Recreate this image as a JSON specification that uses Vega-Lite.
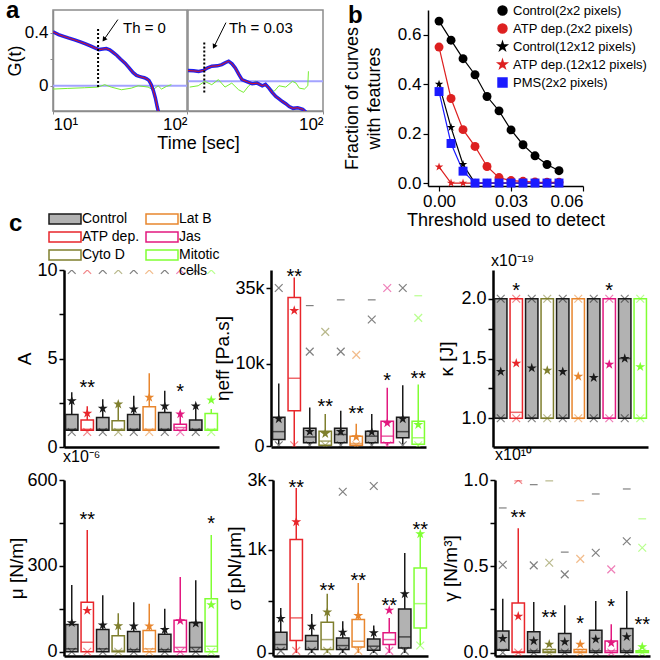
{
"$schema": "https://vega.github.io/schema/vega-lite/v6.json",
"padding": {"left": 5, "top": -2, "right": 0, "bottom": 0},
"config": {
 "font": "Liberation Sans",
 "view": {"stroke": null},
 "legend": {"disable": true},
 "axis": {"grid": false, "domainColor": "black", "domainWidth": 2.5, "tickColor": "black", "tickWidth": 1.5, "tickSize": 5, "labelFontSize": 18, "labelColor": "black", "titleFontSize": 19, "titleFontWeight": "normal", "titleColor": "black", "labelPadding": 2},
 "title": {"fontWeight": "normal", "color": "black"}
},
"datasets": {
 "aFitL": [{"t":10,"g":0.405},{"t":11,"g":0.385},{"t":12,"g":0.372},{"t":13,"g":0.36},{"t":14.5,"g":0.345},{"t":16,"g":0.33},{"t":17.5,"g":0.315},{"t":19,"g":0.3},{"t":20.5,"g":0.285},{"t":22,"g":0.272},{"t":23.5,"g":0.276},{"t":25,"g":0.28},{"t":26.5,"g":0.27},{"t":28,"g":0.252},{"t":30,"g":0.228},{"t":32,"g":0.2},{"t":34.5,"g":0.17},{"t":37,"g":0.135},{"t":39.5,"g":0.1},{"t":42,"g":0.078},{"t":44,"g":0.07},{"t":46,"g":0.065},{"t":48,"g":0.06},{"t":50,"g":0.052},{"t":52,"g":0.04},{"t":54,"g":0.01},{"t":56,"g":-0.035},{"t":58,"g":-0.09},{"t":60,"g":-0.16},{"t":62,"g":-0.22}],
 "aResL": [{"t":10,"g":-0.025},{"t":12.9,"g":-0.02},{"t":17.2,"g":-0.015},{"t":21.7,"g":-0.01},{"t":24.3,"g":0.008},{"t":27.2,"g":-0.01},{"t":32.4,"g":-0.03},{"t":38.4,"g":-0.018},{"t":43.2,"g":0.0},{"t":51.2,"g":-0.01},{"t":55.8,"g":-0.03},{"t":60.9,"g":0.0},{"t":64.5,"g":-0.025},{"t":70.2,"g":-0.005},{"t":76.4,"g":0.008}],
 "aFitR": [{"t":10,"g":0.114},{"t":11,"g":0.112},{"t":12,"g":0.108},{"t":13,"g":0.115},{"t":14,"g":0.135},{"t":15,"g":0.147},{"t":16.5,"g":0.15},{"t":17.8,"g":0.159},{"t":19,"g":0.175},{"t":20,"g":0.185},{"t":21.2,"g":0.165},{"t":22.4,"g":0.134},{"t":23.8,"g":0.085},{"t":25.1,"g":0.046},{"t":27.5,"g":0.03},{"t":29.9,"g":0.015},{"t":32.5,"g":0.02},{"t":35.5,"g":0.0},{"t":37.5,"g":0.01},{"t":39.8,"g":-0.018},{"t":42,"g":-0.05},{"t":44.7,"g":-0.081},{"t":47.5,"g":-0.1},{"t":50.1,"g":-0.119},{"t":53,"g":-0.135},{"t":56.2,"g":-0.157},{"t":60,"g":-0.17},{"t":65,"g":-0.165},{"t":70.8,"g":-0.177},{"t":75,"g":-0.2}],
 "aResR": [{"t":10.3,"g":-0.01},{"t":11.9,"g":0.0},{"t":13.3,"g":0.033},{"t":15,"g":0.008},{"t":16.8,"g":0.046},{"t":18.8,"g":-0.01},{"t":21.1,"g":0.02},{"t":23.7,"g":-0.03},{"t":25.8,"g":-0.05},{"t":28.2,"g":0.0},{"t":31.6,"g":0.033},{"t":35.5,"g":0.008},{"t":39.8,"g":-0.01},{"t":43.4,"g":-0.043},{"t":47.2,"g":0.0},{"t":53,"g":-0.01},{"t":59.4,"g":0.033},{"t":63.1,"g":0.02},{"t":66.8,"g":-0.018},{"t":72.8,"g":-0.025},{"t":77.2,"g":0.0},{"t":78,"g":0.109}],
 "aBaseL": [{"t":10,"t2":100,"g":0}],
 "aBaseR": [{"t":10,"t2":100,"g":0.033}],
 "aThL": [{"t":21.7,"g1":-0.01,"g2":0.43}],
 "aThR": [{"t":13.2,"g1":-0.05,"g2":0.33}],
 "aArrL": [{"t1":30.5,"g1":0.498,"t2":24,"g2":0.347,"ang":215}],
 "aArrR": [{"t1":19.1,"g1":0.475,"t2":15.6,"g2":0.294,"ang":207}],
 "aTxtL": [{"t":33.3,"g":0.438,"s":"Th = 0"}],
 "aTxtR": [{"t":20.1,"g":0.438,"s":"Th = 0.03"}],
 "bData": [
  {"th":0,"f":0.655,"s":"Control(2x2 pixels)"},{"th":0.005,"f":0.578,"s":"Control(2x2 pixels)"},{"th":0.01,"f":0.503,"s":"Control(2x2 pixels)"},{"th":0.015,"f":0.438,"s":"Control(2x2 pixels)"},{"th":0.02,"f":0.35,"s":"Control(2x2 pixels)"},{"th":0.025,"f":0.292,"s":"Control(2x2 pixels)"},{"th":0.03,"f":0.215,"s":"Control(2x2 pixels)"},{"th":0.035,"f":0.155,"s":"Control(2x2 pixels)"},{"th":0.04,"f":0.11,"s":"Control(2x2 pixels)"},{"th":0.045,"f":0.075,"s":"Control(2x2 pixels)"},{"th":0.05,"f":0.05,"s":"Control(2x2 pixels)"},
  {"th":0,"f":0.55,"s":"ATP dep.(2x2 pixels)"},{"th":0.005,"f":0.342,"s":"ATP dep.(2x2 pixels)"},{"th":0.01,"f":0.216,"s":"ATP dep.(2x2 pixels)"},{"th":0.015,"f":0.148,"s":"ATP dep.(2x2 pixels)"},{"th":0.02,"f":0.067,"s":"ATP dep.(2x2 pixels)"},{"th":0.025,"f":0.022,"s":"ATP dep.(2x2 pixels)"},{"th":0.03,"f":0.01,"s":"ATP dep.(2x2 pixels)"},{"th":0.035,"f":0.007,"s":"ATP dep.(2x2 pixels)"},{"th":0.04,"f":0.004,"s":"ATP dep.(2x2 pixels)"},{"th":0.045,"f":0.003,"s":"ATP dep.(2x2 pixels)"},{"th":0.05,"f":0.003,"s":"ATP dep.(2x2 pixels)"},
  {"th":0,"f":0.4,"s":"Control(12x12 pixels)"},{"th":0.005,"f":0.225,"s":"Control(12x12 pixels)"},{"th":0.01,"f":0.075,"s":"Control(12x12 pixels)"},{"th":0.015,"f":0,"s":"Control(12x12 pixels)"},{"th":0.02,"f":0,"s":"Control(12x12 pixels)"},{"th":0.025,"f":0,"s":"Control(12x12 pixels)"},{"th":0.03,"f":0,"s":"Control(12x12 pixels)"},{"th":0.035,"f":0,"s":"Control(12x12 pixels)"},{"th":0.04,"f":0,"s":"Control(12x12 pixels)"},{"th":0.045,"f":0,"s":"Control(12x12 pixels)"},{"th":0.05,"f":0,"s":"Control(12x12 pixels)"},
  {"th":0,"f":0.065,"s":"ATP dep.(12x12 pixels)"},{"th":0.005,"f":0,"s":"ATP dep.(12x12 pixels)"},{"th":0.01,"f":0,"s":"ATP dep.(12x12 pixels)"},{"th":0.015,"f":0,"s":"ATP dep.(12x12 pixels)"},{"th":0.02,"f":0,"s":"ATP dep.(12x12 pixels)"},{"th":0.025,"f":0,"s":"ATP dep.(12x12 pixels)"},{"th":0.03,"f":0,"s":"ATP dep.(12x12 pixels)"},{"th":0.035,"f":0,"s":"ATP dep.(12x12 pixels)"},{"th":0.04,"f":0,"s":"ATP dep.(12x12 pixels)"},{"th":0.045,"f":0,"s":"ATP dep.(12x12 pixels)"},{"th":0.05,"f":0,"s":"ATP dep.(12x12 pixels)"},
  {"th":0,"f":0.37,"s":"PMS(2x2 pixels)"},{"th":0.005,"f":0.16,"s":"PMS(2x2 pixels)"},{"th":0.01,"f":0.048,"s":"PMS(2x2 pixels)"},{"th":0.015,"f":0,"s":"PMS(2x2 pixels)"},{"th":0.02,"f":0,"s":"PMS(2x2 pixels)"},{"th":0.025,"f":0,"s":"PMS(2x2 pixels)"},{"th":0.03,"f":0,"s":"PMS(2x2 pixels)"},{"th":0.035,"f":0,"s":"PMS(2x2 pixels)"},{"th":0.04,"f":0,"s":"PMS(2x2 pixels)"},{"th":0.045,"f":0,"s":"PMS(2x2 pixels)"},{"th":0.05,"f":0,"s":"PMS(2x2 pixels)"}
 ],
 "bxA": [
  {"cat":"c1","grp":"Control","lo":0.95,"q1":0.95,"med":1.0,"q3":1.84,"hi":3.09,"mean":2.6},
  {"cat":"atp","grp":"ATP dep.","lo":0.95,"q1":0.95,"med":1.0,"q3":1.52,"hi":2.3,"mean":1.9},
  {"cat":"c2","grp":"Control","lo":0.95,"q1":0.95,"med":1.0,"q3":1.67,"hi":2.7,"mean":2.18},
  {"cat":"cyto","grp":"Cyto D","lo":0.95,"q1":0.95,"med":1.0,"q3":1.48,"hi":2.52,"mean":2.42},
  {"cat":"c3","grp":"Control","lo":0.95,"q1":0.95,"med":1.0,"q3":1.84,"hi":2.9,"mean":2.14},
  {"cat":"latb","grp":"Lat B","lo":0.95,"q1":0.95,"med":1.0,"q3":2.27,"hi":4.17,"mean":2.8},
  {"cat":"c4","grp":"Control","lo":0.95,"q1":0.95,"med":1.0,"q3":1.95,"hi":3.18,"mean":2.31},
  {"cat":"jas","grp":"Jas","lo":0.95,"q1":0.95,"med":1.1,"q3":1.29,"hi":2.03,"mean":1.86},
  {"cat":"c5","grp":"Control","lo":0.95,"q1":0.95,"med":1.0,"q3":1.52,"hi":2.46,"mean":2.31},
  {"cat":"mit","grp":"Mitotic cells","lo":0.95,"q1":0.95,"med":1.0,"q3":1.89,"hi":2.14,"mean":2.65}
 ],
 "mkA": [
  {"cat":"c1","grp":"Control","v":0.85,"k":"x"},{"cat":"atp","grp":"ATP dep.","v":0.85,"k":"x"},{"cat":"c2","grp":"Control","v":0.85,"k":"x"},{"cat":"cyto","grp":"Cyto D","v":0.85,"k":"x"},{"cat":"c3","grp":"Control","v":0.85,"k":"x"},{"cat":"latb","grp":"Lat B","v":0.85,"k":"x"},{"cat":"c4","grp":"Control","v":0.85,"k":"x"},{"cat":"jas","grp":"Jas","v":0.85,"k":"x"},{"cat":"c5","grp":"Control","v":0.85,"k":"x"},{"cat":"mit","grp":"Mitotic cells","v":0.85,"k":"x"},
  {"cat":"c1","grp":"Control","v":10,"k":"x"},{"cat":"atp","grp":"ATP dep.","v":10,"k":"x"},{"cat":"c2","grp":"Control","v":10,"k":"x"},{"cat":"cyto","grp":"Cyto D","v":10,"k":"x"},{"cat":"c3","grp":"Control","v":10,"k":"x"},{"cat":"latb","grp":"Lat B","v":10,"k":"x"},{"cat":"c4","grp":"Control","v":10,"k":"x"},{"cat":"jas","grp":"Jas","v":10,"k":"x"},{"cat":"c5","grp":"Control","v":10,"k":"x"},{"cat":"mit","grp":"Mitotic cells","v":10,"k":"x"}
 ],
 "sgA": [{"cat":"atp","v":3.6,"s":"**"},{"cat":"jas","v":3.4,"s":"*"}],
 "bxE": [
  {"cat":"c1","grp":"Control","lo":200,"q1":800,"med":1750,"q3":3500,"hi":7600,"mean":3300},
  {"cat":"atp","grp":"ATP dep.","lo":0,"q1":4300,"med":8250,"q3":18100,"hi":37900,"mean":16500},
  {"cat":"c2","grp":"Control","lo":200,"q1":400,"med":1100,"q3":2150,"hi":4700,"mean":1750},
  {"cat":"cyto","grp":"Cyto D","lo":0,"q1":100,"med":600,"q3":1800,"hi":3900,"mean":1500},
  {"cat":"c3","grp":"Control","lo":200,"q1":400,"med":1400,"q3":2150,"hi":4300,"mean":1750},
  {"cat":"latb","grp":"Lat B","lo":0,"q1":100,"med":300,"q3":1200,"hi":2700,"mean":1100},
  {"cat":"c4","grp":"Control","lo":200,"q1":400,"med":1200,"q3":1800,"hi":3900,"mean":1700},
  {"cat":"jas","grp":"Jas","lo":100,"q1":400,"med":1200,"q3":3000,"hi":7100,"mean":2800},
  {"cat":"c5","grp":"Control","lo":200,"q1":1000,"med":1750,"q3":3500,"hi":7400,"mean":3300},
  {"cat":"mit","grp":"Mitotic cells","lo":100,"q1":200,"med":1000,"q3":3000,"hi":7500,"mean":2600}
 ],
 "mkE": [
  {"cat":"c1","grp":"Control","v":100,"k":"x"},{"cat":"atp","grp":"ATP dep.","v":100,"k":"x"},{"cat":"c2","grp":"Control","v":100,"k":"x"},{"cat":"cyto","grp":"Cyto D","v":100,"k":"x"},{"cat":"c3","grp":"Control","v":100,"k":"x"},{"cat":"latb","grp":"Lat B","v":100,"k":"x"},{"cat":"c4","grp":"Control","v":100,"k":"x"},{"cat":"jas","grp":"Jas","v":100,"k":"x"},{"cat":"c5","grp":"Control","v":100,"k":"x"},{"cat":"mit","grp":"Mitotic cells","v":100,"k":"x"},
  {"cat":"c1","grp":"Control","v":35000,"k":"x"},{"cat":"jas","grp":"Jas","v":35000,"k":"x"},{"cat":"c5","grp":"Control","v":35000,"k":"x"},
  {"cat":"c2","grp":"Control","v":11500,"k":"x"},{"cat":"c2","grp":"Control","v":17100,"k":"d"},
  {"cat":"cyto","grp":"Cyto D","v":13900,"k":"x"},
  {"cat":"c3","grp":"Control","v":11500,"k":"x"},{"cat":"c3","grp":"Control","v":17800,"k":"d"},
  {"cat":"latb","grp":"Lat B","v":11100,"k":"x"},
  {"cat":"c4","grp":"Control","v":15400,"k":"x"},{"cat":"c4","grp":"Control","v":17800,"k":"d"},
  {"cat":"mit","grp":"Mitotic cells","v":15600,"k":"x"},{"cat":"mit","grp":"Mitotic cells","v":18300,"k":"d"}
 ],
 "sgE": [{"cat":"atp","v":39500,"s":"**"},{"cat":"cyto","v":5300,"s":"**"},{"cat":"latb","v":4500,"s":"**"},{"cat":"jas","v":8500,"s":"*"},{"cat":"mit","v":8800,"s":"**"}],
 "bxK": [
  {"cat":"c1","grp":"Control","lo":1,"q1":1,"med":1,"q3":2,"hi":2,"mean":1.39},
  {"cat":"atp","grp":"ATP dep.","lo":1,"q1":1,"med":1.05,"q3":2,"hi":2,"mean":1.46},
  {"cat":"c2","grp":"Control","lo":1,"q1":1,"med":1,"q3":2,"hi":2,"mean":1.42},
  {"cat":"cyto","grp":"Cyto D","lo":1,"q1":1,"med":1,"q3":2,"hi":2,"mean":1.4},
  {"cat":"c3","grp":"Control","lo":1,"q1":1,"med":1,"q3":2,"hi":2,"mean":1.39},
  {"cat":"latb","grp":"Lat B","lo":1,"q1":1,"med":1,"q3":2,"hi":2,"mean":1.35},
  {"cat":"c4","grp":"Control","lo":1,"q1":1,"med":1,"q3":2,"hi":2,"mean":1.34},
  {"cat":"jas","grp":"Jas","lo":1,"q1":1,"med":1,"q3":2,"hi":2,"mean":1.45},
  {"cat":"c5","grp":"Control","lo":1,"q1":1,"med":1.5,"q3":2,"hi":2,"mean":1.5},
  {"cat":"mit","grp":"Mitotic cells","lo":1,"q1":1,"med":1,"q3":2,"hi":2,"mean":1.43}
 ],
 "mkK": [
  {"cat":"c1","grp":"Control","v":1,"k":"x"},{"cat":"atp","grp":"ATP dep.","v":1,"k":"x"},{"cat":"c2","grp":"Control","v":1,"k":"x"},{"cat":"cyto","grp":"Cyto D","v":1,"k":"x"},{"cat":"c3","grp":"Control","v":1,"k":"x"},{"cat":"latb","grp":"Lat B","v":1,"k":"x"},{"cat":"c4","grp":"Control","v":1,"k":"x"},{"cat":"jas","grp":"Jas","v":1,"k":"x"},{"cat":"c5","grp":"Control","v":1,"k":"x"},{"cat":"mit","grp":"Mitotic cells","v":1,"k":"x"},
  {"cat":"c1","grp":"Control","v":2,"k":"x"},{"cat":"atp","grp":"ATP dep.","v":2,"k":"x"},{"cat":"c2","grp":"Control","v":2,"k":"x"},{"cat":"cyto","grp":"Cyto D","v":2,"k":"x"},{"cat":"c3","grp":"Control","v":2,"k":"x"},{"cat":"latb","grp":"Lat B","v":2,"k":"x"},{"cat":"c4","grp":"Control","v":2,"k":"x"},{"cat":"jas","grp":"Jas","v":2,"k":"x"},{"cat":"c5","grp":"Control","v":2,"k":"x"},{"cat":"mit","grp":"Mitotic cells","v":2,"k":"x"}
 ],
 "sgK": [{"cat":"atp","v":2.11,"s":"*"},{"cat":"jas","v":2.11,"s":"*"}],
 "bxM": [
  {"cat":"c1","grp":"Control","lo":0,"q1":0,"med":10,"q3":95,"hi":233,"mean":101},
  {"cat":"atp","grp":"ATP dep.","lo":0,"q1":0,"med":33,"q3":173,"hi":425,"mean":144},
  {"cat":"c2","grp":"Control","lo":0,"q1":0,"med":10,"q3":78,"hi":197,"mean":93},
  {"cat":"cyto","grp":"Cyto D","lo":0,"q1":0,"med":4,"q3":56,"hi":134,"mean":90},
  {"cat":"c3","grp":"Control","lo":0,"q1":0,"med":7,"q3":71,"hi":173,"mean":89},
  {"cat":"latb","grp":"Lat B","lo":0,"q1":0,"med":10,"q3":74,"hi":168,"mean":89},
  {"cat":"c4","grp":"Control","lo":0,"q1":0,"med":7,"q3":61,"hi":150,"mean":77},
  {"cat":"jas","grp":"Jas","lo":0,"q1":0,"med":15,"q3":110,"hi":261,"mean":108},
  {"cat":"c5","grp":"Control","lo":0,"q1":0,"med":15,"q3":102,"hi":250,"mean":99},
  {"cat":"mit","grp":"Mitotic cells","lo":0,"q1":0,"med":19,"q3":185,"hi":408,"mean":164}
 ],
 "mkM": [
  {"cat":"c1","grp":"Control","v":0,"k":"x"},{"cat":"atp","grp":"ATP dep.","v":0,"k":"x"},{"cat":"c2","grp":"Control","v":0,"k":"x"},{"cat":"cyto","grp":"Cyto D","v":0,"k":"x"},{"cat":"c3","grp":"Control","v":0,"k":"x"},{"cat":"latb","grp":"Lat B","v":0,"k":"x"},{"cat":"c4","grp":"Control","v":0,"k":"x"},{"cat":"jas","grp":"Jas","v":0,"k":"x"},{"cat":"c5","grp":"Control","v":0,"k":"x"},{"cat":"mit","grp":"Mitotic cells","v":0,"k":"x"}
 ],
 "sgM": [{"cat":"atp","v":479,"s":"**"},{"cat":"mit","v":462,"s":"*"}],
 "bxS": [
  {"cat":"c1","grp":"Control","lo":32,"q1":32,"med":81,"q3":200,"hi":435,"mean":332},
  {"cat":"atp","grp":"ATP dep.","lo":0,"q1":119,"med":339,"q3":1097,"hi":2730,"mean":1268},
  {"cat":"c2","grp":"Control","lo":0,"q1":32,"med":113,"q3":168,"hi":377,"mean":258},
  {"cat":"cyto","grp":"Cyto D","lo":0,"q1":32,"med":129,"q3":297,"hi":574,"mean":394},
  {"cat":"c3","grp":"Control","lo":0,"q1":32,"med":71,"q3":145,"hi":306,"mean":200},
  {"cat":"latb","grp":"Lat B","lo":0,"q1":58,"med":113,"q3":323,"hi":677,"mean":361},
  {"cat":"c4","grp":"Control","lo":0,"q1":26,"med":65,"q3":135,"hi":265,"mean":194},
  {"cat":"jas","grp":"Jas","lo":0,"q1":81,"med":129,"q3":194,"hi":339,"mean":413},
  {"cat":"c5","grp":"Control","lo":0,"q1":48,"med":155,"q3":426,"hi":968,"mean":571},
  {"cat":"mit","grp":"Mitotic cells","lo":71,"q1":242,"med":477,"q3":823,"hi":1152,"mean":1152}
 ],
 "mkS": [
  {"cat":"c1","grp":"Control","v":20,"k":"x"},{"cat":"atp","grp":"ATP dep.","v":20,"k":"x"},{"cat":"c2","grp":"Control","v":20,"k":"x"},{"cat":"cyto","grp":"Cyto D","v":20,"k":"x"},{"cat":"c3","grp":"Control","v":20,"k":"x"},{"cat":"latb","grp":"Lat B","v":20,"k":"x"},{"cat":"c4","grp":"Control","v":20,"k":"x"},{"cat":"jas","grp":"Jas","v":20,"k":"x"},{"cat":"c5","grp":"Control","v":20,"k":"x"},{"cat":"mit","grp":"Mitotic cells","v":71,"k":"x"},
  {"cat":"c3","grp":"Control","v":2610,"k":"x"},{"cat":"c4","grp":"Control","v":2800,"k":"x"}
 ],
 "sgS": [{"cat":"atp","v":2900,"s":"**"},{"cat":"cyto","v":645,"s":"**"},{"cat":"latb","v":748,"s":"**"},{"cat":"jas","v":506,"s":"**"},{"cat":"mit","v":1242,"s":"**"}],
 "bxG": [
  {"cat":"c1","grp":"Control","lo":0.013,"q1":0.013,"med":0.017,"q3":0.125,"hi":0.312,"mean":0.081},
  {"cat":"atp","grp":"ATP dep.","lo":0,"q1":0,"med":0.005,"q3":0.287,"hi":0.72,"mean":0.21},
  {"cat":"c2","grp":"Control","lo":0,"q1":0,"med":0.01,"q3":0.12,"hi":0.293,"mean":0.067},
  {"cat":"cyto","grp":"Cyto D","lo":0,"q1":0,"med":0.005,"q3":0.017,"hi":0.017,"mean":0.048},
  {"cat":"c3","grp":"Control","lo":0,"q1":0,"med":0.01,"q3":0.11,"hi":0.274,"mean":0.062},
  {"cat":"latb","grp":"Lat B","lo":0,"q1":0,"med":0.005,"q3":0.017,"hi":0.017,"mean":0.048},
  {"cat":"c4","grp":"Control","lo":0,"q1":0,"med":0.01,"q3":0.129,"hi":0.299,"mean":0.077},
  {"cat":"jas","grp":"Jas","lo":0,"q1":0,"med":0.01,"q3":0.067,"hi":0.164,"mean":0.056},
  {"cat":"c5","grp":"Control","lo":0,"q1":0,"med":0.01,"q3":0.139,"hi":0.356,"mean":0.091},
  {"cat":"mit","grp":"Mitotic cells","lo":0,"q1":0,"med":0.005,"q3":0.01,"hi":0.01,"mean":0.033}
 ],
 "mkG": [
  {"cat":"c1","grp":"Control","v":0,"k":"x"},{"cat":"atp","grp":"ATP dep.","v":0,"k":"x"},{"cat":"c2","grp":"Control","v":0,"k":"x"},{"cat":"cyto","grp":"Cyto D","v":0,"k":"x"},{"cat":"c3","grp":"Control","v":0,"k":"x"},{"cat":"latb","grp":"Lat B","v":0,"k":"x"},{"cat":"c4","grp":"Control","v":0,"k":"x"},{"cat":"jas","grp":"Jas","v":0,"k":"x"},{"cat":"c5","grp":"Control","v":0,"k":"x"},{"cat":"mit","grp":"Mitotic cells","v":0,"k":"x"},
  {"cat":"c1","grp":"Control","v":0.509,"k":"x"},{"cat":"c1","grp":"Control","v":0.838,"k":"d"},
  {"cat":"atp","grp":"ATP dep.","v":1.0,"k":"x"},{"cat":"atp","grp":"ATP dep.","v":0.995,"k":"d"},
  {"cat":"c2","grp":"Control","v":0.505,"k":"x"},{"cat":"c2","grp":"Control","v":0.973,"k":"d"},
  {"cat":"cyto","grp":"Cyto D","v":0.52,"k":"x"},{"cat":"cyto","grp":"Cyto D","v":0.995,"k":"d"},
  {"cat":"c3","grp":"Control","v":0.453,"k":"x"},{"cat":"c3","grp":"Control","v":0.582,"k":"d"},
  {"cat":"latb","grp":"Lat B","v":0.543,"k":"x"},{"cat":"latb","grp":"Lat B","v":0.88,"k":"d"},
  {"cat":"c4","grp":"Control","v":0.578,"k":"x"},{"cat":"c4","grp":"Control","v":0.919,"k":"d"},
  {"cat":"jas","grp":"Jas","v":0.482,"k":"x"},
  {"cat":"c5","grp":"Control","v":0.645,"k":"x"},{"cat":"c5","grp":"Control","v":0.948,"k":"d"},
  {"cat":"mit","grp":"Mitotic cells","v":0.607,"k":"x"},{"cat":"mit","grp":"Mitotic cells","v":0.775,"k":"d"}
 ],
 "sgG": [{"cat":"atp","v":0.81,"s":"**"},{"cat":"cyto","v":0.23,"s":"**"},{"cat":"latb","v":0.197,"s":"*"},{"cat":"jas","v":0.293,"s":"*"},{"cat":"mit","v":0.19,"s":"**"}]
},
"spacing": -17,
"resolve": {"scale": {"color": "independent", "fill": "independent", "stroke": "independent", "shape": "independent", "size": "independent"}, "legend": {"color": "independent", "fill": "independent", "stroke": "independent", "shape": "independent", "size": "independent"}},
"vconcat": [
 {"hconcat": [
  {"width": 134, "height": 101,
   "view": {"stroke": "#8c8c8c", "strokeWidth": 1.5},
   "title": {"text": "a", "anchor": "start", "frame": "group", "fontSize": 24, "fontWeight": "bold", "dx": -47, "offset": -13},
   "layer": [
    {"data": {"name": "aBaseL"}, "mark": {"type": "rule", "color": "#a3a3ff", "strokeWidth": 2},
     "encoding": {
      "x": {"field": "t", "type": "quantitative", "scale": {"type": "log", "domain": [10, 100], "nice": false}, "axis": {"title": "Time [sec]", "titleX": 145, "values": [10, 100], "labelExpr": "datum.value == 10 ? '10¹' : '10²'", "domainColor": "#8c8c8c", "domainWidth": 1.5, "tickColor": "#8c8c8c", "tickSize": 3, "tickWidth": 1, "labelPadding": 2, "titlePadding": 2, "labelFontSize": 17, "titleFontSize": 18}},
      "x2": {"field": "t2"},
      "y": {"field": "g", "type": "quantitative", "scale": {"domain": [-0.19, 0.57], "nice": false, "zero": false}, "axis": {"title": "G(t)", "values": [0, 0.2, 0.4], "labelExpr": "datum.value == 0 ? '0' : (datum.value == 0.4 ? '0.4' : '')", "domainColor": "#8c8c8c", "domainWidth": 1.5, "tickColor": "#8c8c8c", "tickSize": 3, "tickWidth": 1, "titlePadding": 0, "labelFontSize": 17, "titleFontSize": 18}}}},
    {"data": {"name": "aResL"}, "mark": {"type": "line", "color": "#77ee33", "strokeWidth": 1, "clip": true}, "encoding": {"x": {"field": "t", "type": "quantitative"}, "y": {"field": "g", "type": "quantitative"}}},
    {"data": {"name": "aFitL"}, "mark": {"type": "line", "color": "#2020ee", "strokeWidth": 3.5, "clip": true}, "encoding": {"x": {"field": "t", "type": "quantitative"}, "y": {"field": "g", "type": "quantitative"}}},
    {"data": {"name": "aFitL"}, "mark": {"type": "line", "color": "#e01818", "strokeWidth": 1, "clip": true}, "encoding": {"x": {"field": "t", "type": "quantitative"}, "y": {"field": "g", "type": "quantitative"}}},
    {"data": {"name": "aThL"}, "mark": {"type": "rule", "strokeDash": [2, 2], "strokeWidth": 2, "color": "black"}, "encoding": {"x": {"field": "t", "type": "quantitative"}, "y": {"field": "g1", "type": "quantitative"}, "y2": {"field": "g2"}}},
    {"data": {"name": "aArrL"}, "mark": {"type": "rule", "strokeWidth": 1, "color": "black"}, "encoding": {"x": {"field": "t1", "type": "quantitative"}, "x2": {"field": "t2"}, "y": {"field": "g1", "type": "quantitative"}, "y2": {"field": "g2"}}},
    {"data": {"name": "aArrL"}, "mark": {"type": "point", "shape": "triangle-up", "filled": true, "color": "black", "size": 30, "opacity": 1}, "encoding": {"x": {"field": "t2", "type": "quantitative"}, "y": {"field": "g2", "type": "quantitative"}, "angle": {"field": "ang", "type": "quantitative", "scale": null}}},
    {"data": {"name": "aTxtL"}, "mark": {"type": "text", "align": "left", "baseline": "middle", "fontSize": 15}, "encoding": {"x": {"field": "t", "type": "quantitative"}, "y": {"field": "g", "type": "quantitative"}, "text": {"field": "s"}}}
   ]},
  {"width": 135, "height": 101,
   "view": {"stroke": "#8c8c8c", "strokeWidth": 1.5},
   "layer": [
    {"data": {"name": "aBaseR"}, "mark": {"type": "rule", "color": "#a3a3ff", "strokeWidth": 2},
     "encoding": {
      "x": {"field": "t", "type": "quantitative", "scale": {"type": "log", "domain": [10, 100], "nice": false}, "axis": {"title": null, "values": [100], "labelExpr": "'10²'", "domainColor": "#8c8c8c", "domainWidth": 1.5, "tickColor": "#8c8c8c", "tickSize": 3, "tickWidth": 1, "labelPadding": 2, "labelFontSize": 17}},
      "x2": {"field": "t2"},
      "y": {"field": "g", "type": "quantitative", "scale": {"domain": [-0.19, 0.57], "nice": false, "zero": false}, "axis": {"title": null, "labels": false, "ticks": false, "domain": false}}}},
    {"data": {"name": "aResR"}, "mark": {"type": "line", "color": "#77ee33", "strokeWidth": 1, "clip": true}, "encoding": {"x": {"field": "t", "type": "quantitative"}, "y": {"field": "g", "type": "quantitative"}}},
    {"data": {"name": "aFitR"}, "mark": {"type": "line", "color": "#2020ee", "strokeWidth": 3.5, "clip": true}, "encoding": {"x": {"field": "t", "type": "quantitative"}, "y": {"field": "g", "type": "quantitative"}}},
    {"data": {"name": "aFitR"}, "mark": {"type": "line", "color": "#e01818", "strokeWidth": 1, "clip": true}, "encoding": {"x": {"field": "t", "type": "quantitative"}, "y": {"field": "g", "type": "quantitative"}}},
    {"data": {"name": "aThR"}, "mark": {"type": "rule", "strokeDash": [2, 2], "strokeWidth": 2, "color": "black"}, "encoding": {"x": {"field": "t", "type": "quantitative"}, "y": {"field": "g1", "type": "quantitative"}, "y2": {"field": "g2"}}},
    {"data": {"name": "aArrR"}, "mark": {"type": "rule", "strokeWidth": 1, "color": "black"}, "encoding": {"x": {"field": "t1", "type": "quantitative"}, "x2": {"field": "t2"}, "y": {"field": "g1", "type": "quantitative"}, "y2": {"field": "g2"}}},
    {"data": {"name": "aArrR"}, "mark": {"type": "point", "shape": "triangle-up", "filled": true, "color": "black", "size": 30, "opacity": 1}, "encoding": {"x": {"field": "t2", "type": "quantitative"}, "y": {"field": "g2", "type": "quantitative"}, "angle": {"field": "ang", "type": "quantitative", "scale": null}}},
    {"data": {"name": "aTxtR"}, "mark": {"type": "text", "align": "left", "baseline": "middle", "fontSize": 15}, "encoding": {"x": {"field": "t", "type": "quantitative"}, "y": {"field": "g", "type": "quantitative"}, "text": {"field": "s"}}}
   ]},
  {"width": 259, "height": 176,
   "data": {"name": "bData"},
   "layer": [
    {"mark": {"type": "line", "strokeWidth": 1.2},
     "encoding": {
      "x": {"field": "th", "type": "quantitative", "scale": {"domain": [-0.0046, 0.06], "range": [104, 259], "nice": false, "zero": false}, "axis": {"title": "Threshold used to detect", "values": [0, 0.03, 0.06], "format": ".2f", "domainWidth": 1.5, "tickWidth": 1.2, "labelFontSize": 17, "titleFontSize": 18, "titlePadding": 2}},
      "y": {"field": "f", "type": "quantitative", "scale": {"domain": [-0.012, 0.7], "nice": false, "zero": false}, "axis": {"title": ["Fraction of curves", "with features"], "values": [0, 0.2, 0.4, 0.6], "format": ".1f", "domainWidth": 1.5, "tickWidth": 1.2, "labelFontSize": 17, "titleFontSize": 18, "titleLineHeight": 22, "titlePadding": 14, "offset": -104}},
      "color": {"field": "s", "type": "nominal", "scale": {"domain": ["Control(2x2 pixels)", "ATP dep.(2x2 pixels)", "Control(12x12 pixels)", "ATP dep.(12x12 pixels)", "PMS(2x2 pixels)"], "range": ["#000000", "#dd2020", "#000000", "#dd2020", "#1a1aff"]}}}},
    {"mark": {"type": "point", "filled": true, "opacity": 1},
     "encoding": {
      "x": {"field": "th", "type": "quantitative"},
      "y": {"field": "f", "type": "quantitative"},
      "color": {"field": "s", "type": "nominal", "scale": {"domain": ["Control(2x2 pixels)", "ATP dep.(2x2 pixels)", "Control(12x12 pixels)", "ATP dep.(12x12 pixels)", "PMS(2x2 pixels)"], "range": ["#000000", "#dd2020", "#000000", "#dd2020", "#1a1aff"]}, "legend": {"orient": "none", "legendX": 24, "legendY": -6, "title": "b", "titleOrient": "left", "titleAnchor": "start", "titleBaseline": "top", "titleFontSize": 24, "titleFontWeight": "bold", "titleColor": "black", "titlePadding": 133, "labelFontSize": 13, "labelOffset": 4, "rowPadding": 3, "labelColor": "black"}},
      "shape": {"field": "s", "type": "nominal", "scale": {"domain": ["Control(2x2 pixels)", "ATP dep.(2x2 pixels)", "Control(12x12 pixels)", "ATP dep.(12x12 pixels)", "PMS(2x2 pixels)"], "range": ["circle", "circle", "M0,-1L0.225,-0.309L0.951,-0.309L0.363,0.118L0.588,0.809L0,0.382L-0.588,0.809L-0.363,0.118L-0.951,-0.309L-0.225,-0.309Z", "M0,-1L0.225,-0.309L0.951,-0.309L0.363,0.118L0.588,0.809L0,0.382L-0.588,0.809L-0.363,0.118L-0.951,-0.309L-0.225,-0.309Z", "square"]}, "legend": {"orient": "none", "legendX": 24, "legendY": -6, "title": "b", "titleOrient": "left", "titleAnchor": "start", "titleBaseline": "top", "titleFontSize": 24, "titleFontWeight": "bold", "titleColor": "black", "titlePadding": 133, "labelFontSize": 13, "labelOffset": 4, "rowPadding": 3, "labelColor": "black"}},
      "size": {"field": "s", "type": "nominal", "scale": {"domain": ["Control(2x2 pixels)", "ATP dep.(2x2 pixels)", "Control(12x12 pixels)", "ATP dep.(12x12 pixels)", "PMS(2x2 pixels)"], "range": [80, 80, 130, 130, 70]}}}}
   ]}
 ], "spacing": 1, "bounds": "flush", "resolve": {"scale": {"color": "independent", "shape": "independent", "size": "independent"}, "legend": {"color": "independent", "shape": "independent", "size": "independent"}}},
 {"concat": [
  {"width": 166, "height": 177,
   "data": {"name": "bxA"},
   "layer": [
    {"mark": {"type": "rule", "strokeWidth": 1.5},
     "encoding": {
      "x": {"field": "cat", "type": "nominal", "sort": null, "scale": {"domain": ["c1","atp","c2","cyto","c3","latb","c4","jas","c5","mit"], "range": [11, 166], "paddingInner": 0.2, "paddingOuter": 0.1}, "axis": {"labels": false, "ticks": false, "title": null}},
      "y": {"field": "lo", "type": "quantitative", "scale": {"domain": [0, 10], "nice": false, "zero": false}, "axis": {"title": "A", "offset": -11, "values": [0, 2.5, 5, 7.5, 10], "labelExpr": "datum.value % 5 == 0 ? format(datum.value, 'd') : ''", "titlePadding": 2}},
      "y2": {"field": "hi"},
      "color": {"field": "grp", "type": "nominal", "scale": {"domain": ["Control","Lat B","ATP dep.","Jas","Cyto D","Mitotic cells"], "range": ["#1a1a1a","#e8862e","#e8262b","#e2187f","#7f7f2e","#80ff33"]}}}},
    {"mark": {"type": "bar", "strokeWidth": 1.5},
     "encoding": {
      "x": {"field": "cat", "type": "nominal"},
      "y": {"field": "q1", "type": "quantitative"},
      "y2": {"field": "q3"},
      "fill": {"field": "grp", "type": "nominal", "scale": {"domain": ["Control","ATP dep.","Cyto D","Lat B","Jas","Mitotic cells"], "range": ["#b2b2b2","#ffffff","#ffffff","#ffffff","#ffffff","#ffffff"]}, "legend": {"orient": "none", "legendX": -44, "legendY": -58, "columns": 2, "title": "c", "titleOrient": "left", "titleAnchor": "start", "titleFontSize": 24, "titleFontWeight": "bold", "titleColor": "black", "titleBaseline": "top", "titlePadding": 35, "symbolType": "M-3.2,-1H3.2V1H-3.2Z", "symbolSize": 100, "symbolStrokeWidth": 1.5, "labelFontSize": 14, "labelOffset": 10, "rowPadding": 2, "columnPadding": 3, "labelColor": "black", "labelExpr": "datum.label == 'Mitotic cells' ? ['Mitotic', ' cells'] : datum.label"}},
      "stroke": {"field": "grp", "type": "nominal", "scale": {"domain": ["Control","ATP dep.","Cyto D","Lat B","Jas","Mitotic cells"], "range": ["#1a1a1a","#e8262b","#7f7f2e","#e8862e","#e2187f","#80ff33"]}, "legend": {"orient": "none", "legendX": -44, "legendY": -58, "columns": 2, "title": "c", "titleOrient": "left", "titleAnchor": "start", "titleFontSize": 24, "titleFontWeight": "bold", "titleColor": "black", "titleBaseline": "top", "titlePadding": 35, "symbolType": "M-3.2,-1H3.2V1H-3.2Z", "symbolSize": 100, "symbolStrokeWidth": 1.5, "labelFontSize": 14, "labelOffset": 10, "rowPadding": 2, "columnPadding": 3, "labelColor": "black", "labelExpr": "datum.label == 'Mitotic cells' ? ['Mitotic', ' cells'] : datum.label"}}}},
    {"mark": {"type": "tick", "size": 12, "thickness": 1.5}, "encoding": {"x": {"field": "cat", "type": "nominal"}, "y": {"field": "med", "type": "quantitative"}, "color": {"field": "grp", "type": "nominal"}}},
    {"mark": {"type": "point", "shape": "M0,-1L0.225,-0.309L0.951,-0.309L0.363,0.118L0.588,0.809L0,0.382L-0.588,0.809L-0.363,0.118L-0.951,-0.309L-0.225,-0.309Z", "size": 110, "filled": true, "opacity": 1}, "encoding": {"x": {"field": "cat", "type": "nominal"}, "y": {"field": "mean", "type": "quantitative"}, "color": {"field": "grp", "type": "nominal"}}},
    {"data": {"name": "mkA"}, "mark": {"type": "point", "filled": false, "size": 60, "strokeWidth": 1.2, "opacity": 0.55, "clip": true}, "encoding": {"x": {"field": "cat", "type": "nominal"}, "y": {"field": "v", "type": "quantitative"}, "color": {"field": "grp", "type": "nominal"}, "shape": {"field": "k", "type": "nominal", "scale": {"domain": ["x", "d"], "range": ["M-1,-1L1,1M-1,1L1,-1", "stroke"]}}}},
    {"data": {"name": "sgA"}, "mark": {"type": "text", "fontSize": 20, "baseline": "alphabetic", "dy": 11, "color": "black"}, "encoding": {"x": {"field": "cat", "type": "nominal"}, "y": {"field": "v", "type": "quantitative"}, "text": {"field": "s"}}}
   ]},
  {"width": 206, "height": 177,
   "data": {"name": "bxE"},
   "layer": [
    {"mark": {"type": "rule", "strokeWidth": 1.5},
     "encoding": {
      "x": {"field": "cat", "type": "nominal", "sort": null, "scale": {"domain": ["c1","atp","c2","cyto","c3","latb","c4","jas","c5","mit"], "range": [51, 206], "paddingInner": 0.2, "paddingOuter": 0.1}, "axis": {"labels": false, "ticks": false, "title": null}},
      "y": {"field": "lo", "type": "quantitative", "scale": {"domain": [0, 19000, 35000, 40000], "range": [176, 20, 18, 0], "nice": false, "zero": false}, "axis": {"title": "ηeff [Pa.s]", "offset": -51, "values": [0, 5000, 10000, 15000, 35000, 40000], "labelExpr": "datum.value == 0 ? '0' : ((datum.value == 10000 || datum.value >= 35000) ? format(datum.value / 1000, 'd') + 'k' : '')", "titlePadding": 2}},
      "y2": {"field": "hi"},
      "color": {"field": "grp", "type": "nominal", "scale": {"domain": ["Control","Lat B","ATP dep.","Jas","Cyto D","Mitotic cells"], "range": ["#1a1a1a","#e8862e","#e8262b","#e2187f","#7f7f2e","#80ff33"]}}}},
    {"mark": {"type": "bar", "strokeWidth": 1.5},
     "encoding": {
      "x": {"field": "cat", "type": "nominal"},
      "y": {"field": "q1", "type": "quantitative"},
      "y2": {"field": "q3"},
      "fill": {"field": "grp", "type": "nominal", "scale": {"domain": ["Control","Lat B","ATP dep.","Jas","Cyto D","Mitotic cells"], "range": ["#b2b2b2","#ffffff","#ffffff","#ffffff","#ffffff","#ffffff"]}},
      "stroke": {"field": "grp", "type": "nominal", "scale": {"domain": ["Control","Lat B","ATP dep.","Jas","Cyto D","Mitotic cells"], "range": ["#1a1a1a","#e8862e","#e8262b","#e2187f","#7f7f2e","#80ff33"]}}}},
    {"mark": {"type": "tick", "size": 12, "thickness": 1.5}, "encoding": {"x": {"field": "cat", "type": "nominal"}, "y": {"field": "med", "type": "quantitative"}, "color": {"field": "grp", "type": "nominal"}}},
    {"mark": {"type": "point", "shape": "M0,-1L0.225,-0.309L0.951,-0.309L0.363,0.118L0.588,0.809L0,0.382L-0.588,0.809L-0.363,0.118L-0.951,-0.309L-0.225,-0.309Z", "size": 110, "filled": true, "opacity": 1}, "encoding": {"x": {"field": "cat", "type": "nominal"}, "y": {"field": "mean", "type": "quantitative"}, "color": {"field": "grp", "type": "nominal"}}},
    {"data": {"name": "mkE"}, "mark": {"type": "point", "filled": false, "size": 60, "strokeWidth": 1.2, "opacity": 0.55, "clip": true}, "encoding": {"x": {"field": "cat", "type": "nominal"}, "y": {"field": "v", "type": "quantitative"}, "color": {"field": "grp", "type": "nominal"}, "shape": {"field": "k", "type": "nominal", "scale": {"domain": ["x", "d"], "range": ["M-1,-1L1,1M-1,1L1,-1", "stroke"]}}}},
    {"data": {"name": "sgE"}, "mark": {"type": "text", "fontSize": 20, "baseline": "alphabetic", "dy": 11, "color": "black"}, "encoding": {"x": {"field": "cat", "type": "nominal"}, "y": {"field": "v", "type": "quantitative"}, "text": {"field": "s"}}}
   ]},
  {"width": 219, "height": 177,
   "title": {"text": "x10⁻¹⁹", "anchor": "start", "frame": "group", "fontSize": 16, "dx": 62, "offset": 1},
   "data": {"name": "bxK"},
   "layer": [
    {"mark": {"type": "rule", "strokeWidth": 1.5},
     "encoding": {
      "x": {"field": "cat", "type": "nominal", "sort": null, "scale": {"domain": ["c1","atp","c2","cyto","c3","latb","c4","jas","c5","mit"], "range": [64, 219], "paddingInner": 0.2, "paddingOuter": 0.1}, "axis": {"labels": false, "ticks": false, "title": null}},
      "y": {"field": "lo", "type": "quantitative", "scale": {"domain": [0.76, 2.24], "nice": false, "zero": false}, "axis": {"title": "κ [J]", "offset": -64, "values": [1, 1.25, 1.5, 1.75, 2], "labelExpr": "(datum.value * 4) % 2 == 0 ? format(datum.value, '.1f') : ''", "titlePadding": 4}},
      "y2": {"field": "hi"},
      "color": {"field": "grp", "type": "nominal", "scale": {"domain": ["Control","Lat B","ATP dep.","Jas","Cyto D","Mitotic cells"], "range": ["#1a1a1a","#e8862e","#e8262b","#e2187f","#7f7f2e","#80ff33"]}}}},
    {"mark": {"type": "bar", "strokeWidth": 1.5},
     "encoding": {
      "x": {"field": "cat", "type": "nominal"},
      "y": {"field": "q1", "type": "quantitative"},
      "y2": {"field": "q3"},
      "fill": {"field": "grp", "type": "nominal", "scale": {"domain": ["Control","Lat B","ATP dep.","Jas","Cyto D","Mitotic cells"], "range": ["#b2b2b2","#ffffff","#ffffff","#ffffff","#ffffff","#ffffff"]}},
      "stroke": {"field": "grp", "type": "nominal", "scale": {"domain": ["Control","Lat B","ATP dep.","Jas","Cyto D","Mitotic cells"], "range": ["#1a1a1a","#e8862e","#e8262b","#e2187f","#7f7f2e","#80ff33"]}}}},
    {"mark": {"type": "tick", "size": 12, "thickness": 1.5}, "encoding": {"x": {"field": "cat", "type": "nominal"}, "y": {"field": "med", "type": "quantitative"}, "color": {"field": "grp", "type": "nominal"}}},
    {"mark": {"type": "point", "shape": "M0,-1L0.225,-0.309L0.951,-0.309L0.363,0.118L0.588,0.809L0,0.382L-0.588,0.809L-0.363,0.118L-0.951,-0.309L-0.225,-0.309Z", "size": 110, "filled": true, "opacity": 1}, "encoding": {"x": {"field": "cat", "type": "nominal"}, "y": {"field": "mean", "type": "quantitative"}, "color": {"field": "grp", "type": "nominal"}}},
    {"data": {"name": "mkK"}, "mark": {"type": "point", "filled": false, "size": 60, "strokeWidth": 1.2, "opacity": 0.55, "clip": true}, "encoding": {"x": {"field": "cat", "type": "nominal"}, "y": {"field": "v", "type": "quantitative"}, "color": {"field": "grp", "type": "nominal"}, "shape": {"field": "k", "type": "nominal", "scale": {"domain": ["x", "d"], "range": ["M-1,-1L1,1M-1,1L1,-1", "stroke"]}}}},
    {"data": {"name": "sgK"}, "mark": {"type": "text", "fontSize": 20, "baseline": "alphabetic", "dy": 11, "color": "black"}, "encoding": {"x": {"field": "cat", "type": "nominal"}, "y": {"field": "v", "type": "quantitative"}, "text": {"field": "s"}}}
   ]},
  {"width": 166, "height": 176,
   "title": {"text": "x10⁻⁶", "anchor": "start", "frame": "group", "fontSize": 16, "dx": 10, "offset": 6},
   "data": {"name": "bxM"},
   "layer": [
    {"mark": {"type": "rule", "strokeWidth": 1.5},
     "encoding": {
      "x": {"field": "cat", "type": "nominal", "sort": null, "scale": {"domain": ["c1","atp","c2","cyto","c3","latb","c4","jas","c5","mit"], "range": [11, 166], "paddingInner": 0.2, "paddingOuter": 0.1}, "axis": {"labels": false, "ticks": false, "title": null}},
      "y": {"field": "lo", "type": "quantitative", "scale": {"domain": [-15, 600], "nice": false, "zero": false}, "axis": {"title": "μ [N/m]", "offset": -11, "values": [0, 150, 300, 450, 600], "labelExpr": "datum.value % 300 == 0 ? format(datum.value, 'd') : ''", "titlePadding": 0}},
      "y2": {"field": "hi"},
      "color": {"field": "grp", "type": "nominal", "scale": {"domain": ["Control","Lat B","ATP dep.","Jas","Cyto D","Mitotic cells"], "range": ["#1a1a1a","#e8862e","#e8262b","#e2187f","#7f7f2e","#80ff33"]}}}},
    {"mark": {"type": "bar", "strokeWidth": 1.5},
     "encoding": {
      "x": {"field": "cat", "type": "nominal"},
      "y": {"field": "q1", "type": "quantitative"},
      "y2": {"field": "q3"},
      "fill": {"field": "grp", "type": "nominal", "scale": {"domain": ["Control","Lat B","ATP dep.","Jas","Cyto D","Mitotic cells"], "range": ["#b2b2b2","#ffffff","#ffffff","#ffffff","#ffffff","#ffffff"]}},
      "stroke": {"field": "grp", "type": "nominal", "scale": {"domain": ["Control","Lat B","ATP dep.","Jas","Cyto D","Mitotic cells"], "range": ["#1a1a1a","#e8862e","#e8262b","#e2187f","#7f7f2e","#80ff33"]}}}},
    {"mark": {"type": "tick", "size": 12, "thickness": 1.5}, "encoding": {"x": {"field": "cat", "type": "nominal"}, "y": {"field": "med", "type": "quantitative"}, "color": {"field": "grp", "type": "nominal"}}},
    {"mark": {"type": "point", "shape": "M0,-1L0.225,-0.309L0.951,-0.309L0.363,0.118L0.588,0.809L0,0.382L-0.588,0.809L-0.363,0.118L-0.951,-0.309L-0.225,-0.309Z", "size": 110, "filled": true, "opacity": 1}, "encoding": {"x": {"field": "cat", "type": "nominal"}, "y": {"field": "mean", "type": "quantitative"}, "color": {"field": "grp", "type": "nominal"}}},
    {"data": {"name": "mkM"}, "mark": {"type": "point", "filled": false, "size": 60, "strokeWidth": 1.2, "opacity": 0.55, "clip": true}, "encoding": {"x": {"field": "cat", "type": "nominal"}, "y": {"field": "v", "type": "quantitative"}, "color": {"field": "grp", "type": "nominal"}, "shape": {"field": "k", "type": "nominal", "scale": {"domain": ["x", "d"], "range": ["M-1,-1L1,1M-1,1L1,-1", "stroke"]}}}},
    {"data": {"name": "sgM"}, "mark": {"type": "text", "fontSize": 20, "baseline": "alphabetic", "dy": 11, "color": "black"}, "encoding": {"x": {"field": "cat", "type": "nominal"}, "y": {"field": "v", "type": "quantitative"}, "text": {"field": "s"}}}
   ]},
  {"width": 208, "height": 176,
   "data": {"name": "bxS"},
   "layer": [
    {"mark": {"type": "rule", "strokeWidth": 1.5},
     "encoding": {
      "x": {"field": "cat", "type": "nominal", "sort": null, "scale": {"domain": ["c1","atp","c2","cyto","c3","latb","c4","jas","c5","mit"], "range": [53, 208], "paddingInner": 0.2, "paddingOuter": 0.1}, "axis": {"labels": false, "ticks": false, "title": null}},
      "y": {"field": "lo", "type": "quantitative", "scale": {"domain": [-30, 1500, 2500, 3000], "range": [176, 18, 15, 0], "nice": false, "zero": false}, "axis": {"title": "σ [pN/μm]", "offset": -53, "values": [0, 500, 1000, 3000], "labelExpr": "datum.value == 0 ? '0' : (datum.value == 1000 ? '1k' : (datum.value == 3000 ? '3k' : ''))", "titlePadding": 2}},
      "y2": {"field": "hi"},
      "color": {"field": "grp", "type": "nominal", "scale": {"domain": ["Control","Lat B","ATP dep.","Jas","Cyto D","Mitotic cells"], "range": ["#1a1a1a","#e8862e","#e8262b","#e2187f","#7f7f2e","#80ff33"]}}}},
    {"mark": {"type": "bar", "strokeWidth": 1.5},
     "encoding": {
      "x": {"field": "cat", "type": "nominal"},
      "y": {"field": "q1", "type": "quantitative"},
      "y2": {"field": "q3"},
      "fill": {"field": "grp", "type": "nominal", "scale": {"domain": ["Control","Lat B","ATP dep.","Jas","Cyto D","Mitotic cells"], "range": ["#b2b2b2","#ffffff","#ffffff","#ffffff","#ffffff","#ffffff"]}},
      "stroke": {"field": "grp", "type": "nominal", "scale": {"domain": ["Control","Lat B","ATP dep.","Jas","Cyto D","Mitotic cells"], "range": ["#1a1a1a","#e8862e","#e8262b","#e2187f","#7f7f2e","#80ff33"]}}}},
    {"mark": {"type": "tick", "size": 12, "thickness": 1.5}, "encoding": {"x": {"field": "cat", "type": "nominal"}, "y": {"field": "med", "type": "quantitative"}, "color": {"field": "grp", "type": "nominal"}}},
    {"mark": {"type": "point", "shape": "M0,-1L0.225,-0.309L0.951,-0.309L0.363,0.118L0.588,0.809L0,0.382L-0.588,0.809L-0.363,0.118L-0.951,-0.309L-0.225,-0.309Z", "size": 110, "filled": true, "opacity": 1}, "encoding": {"x": {"field": "cat", "type": "nominal"}, "y": {"field": "mean", "type": "quantitative"}, "color": {"field": "grp", "type": "nominal"}}},
    {"data": {"name": "mkS"}, "mark": {"type": "point", "filled": false, "size": 60, "strokeWidth": 1.2, "opacity": 0.55, "clip": true}, "encoding": {"x": {"field": "cat", "type": "nominal"}, "y": {"field": "v", "type": "quantitative"}, "color": {"field": "grp", "type": "nominal"}, "shape": {"field": "k", "type": "nominal", "scale": {"domain": ["x", "d"], "range": ["M-1,-1L1,1M-1,1L1,-1", "stroke"]}}}},
    {"data": {"name": "sgS"}, "mark": {"type": "text", "fontSize": 20, "baseline": "alphabetic", "dy": 11, "color": "black"}, "encoding": {"x": {"field": "cat", "type": "nominal"}, "y": {"field": "v", "type": "quantitative"}, "text": {"field": "s"}}}
   ]},
  {"width": 221, "height": 176,
   "title": {"text": "x10¹⁰", "anchor": "start", "frame": "group", "fontSize": 16, "dx": 66, "offset": 8},
   "data": {"name": "bxG"},
   "layer": [
    {"mark": {"type": "rule", "strokeWidth": 1.5},
     "encoding": {
      "x": {"field": "cat", "type": "nominal", "sort": null, "scale": {"domain": ["c1","atp","c2","cyto","c3","latb","c4","jas","c5","mit"], "range": [66, 221], "paddingInner": 0.2, "paddingOuter": 0.1}, "axis": {"labels": false, "ticks": false, "title": null}},
      "y": {"field": "lo", "type": "quantitative", "scale": {"domain": [-0.02, 1.0], "nice": false, "zero": false}, "axis": {"title": "γ [N/m³]", "offset": -66, "values": [0, 0.25, 0.5, 0.75, 1], "labelExpr": "(datum.value * 4) % 2 == 0 ? format(datum.value, '.1f') : ''", "titlePadding": 2}},
      "y2": {"field": "hi"},
      "color": {"field": "grp", "type": "nominal", "scale": {"domain": ["Control","Lat B","ATP dep.","Jas","Cyto D","Mitotic cells"], "range": ["#1a1a1a","#e8862e","#e8262b","#e2187f","#7f7f2e","#80ff33"]}}}},
    {"mark": {"type": "bar", "strokeWidth": 1.5},
     "encoding": {
      "x": {"field": "cat", "type": "nominal"},
      "y": {"field": "q1", "type": "quantitative"},
      "y2": {"field": "q3"},
      "fill": {"field": "grp", "type": "nominal", "scale": {"domain": ["Control","Lat B","ATP dep.","Jas","Cyto D","Mitotic cells"], "range": ["#b2b2b2","#ffffff","#ffffff","#ffffff","#ffffff","#ffffff"]}},
      "stroke": {"field": "grp", "type": "nominal", "scale": {"domain": ["Control","Lat B","ATP dep.","Jas","Cyto D","Mitotic cells"], "range": ["#1a1a1a","#e8862e","#e8262b","#e2187f","#7f7f2e","#80ff33"]}}}},
    {"mark": {"type": "tick", "size": 12, "thickness": 1.5}, "encoding": {"x": {"field": "cat", "type": "nominal"}, "y": {"field": "med", "type": "quantitative"}, "color": {"field": "grp", "type": "nominal"}}},
    {"mark": {"type": "point", "shape": "M0,-1L0.225,-0.309L0.951,-0.309L0.363,0.118L0.588,0.809L0,0.382L-0.588,0.809L-0.363,0.118L-0.951,-0.309L-0.225,-0.309Z", "size": 110, "filled": true, "opacity": 1}, "encoding": {"x": {"field": "cat", "type": "nominal"}, "y": {"field": "mean", "type": "quantitative"}, "color": {"field": "grp", "type": "nominal"}}},
    {"data": {"name": "mkG"}, "mark": {"type": "point", "filled": false, "size": 60, "strokeWidth": 1.2, "opacity": 0.55, "clip": true}, "encoding": {"x": {"field": "cat", "type": "nominal"}, "y": {"field": "v", "type": "quantitative"}, "color": {"field": "grp", "type": "nominal"}, "shape": {"field": "k", "type": "nominal", "scale": {"domain": ["x", "d"], "range": ["M-1,-1L1,1M-1,1L1,-1", "stroke"]}}}},
    {"data": {"name": "sgG"}, "mark": {"type": "text", "fontSize": 20, "baseline": "alphabetic", "dy": 11, "color": "black"}, "encoding": {"x": {"field": "cat", "type": "nominal"}, "y": {"field": "v", "type": "quantitative"}, "text": {"field": "s"}}}
   ]}
 ], "columns": 3, "spacing": {"row": 33, "column": 1}, "bounds": "flush", "resolve": {"scale": {"color": "independent", "fill": "independent", "stroke": "independent", "shape": "independent"}, "legend": {"color": "independent", "fill": "independent", "stroke": "independent", "shape": "independent"}}}
]
}
